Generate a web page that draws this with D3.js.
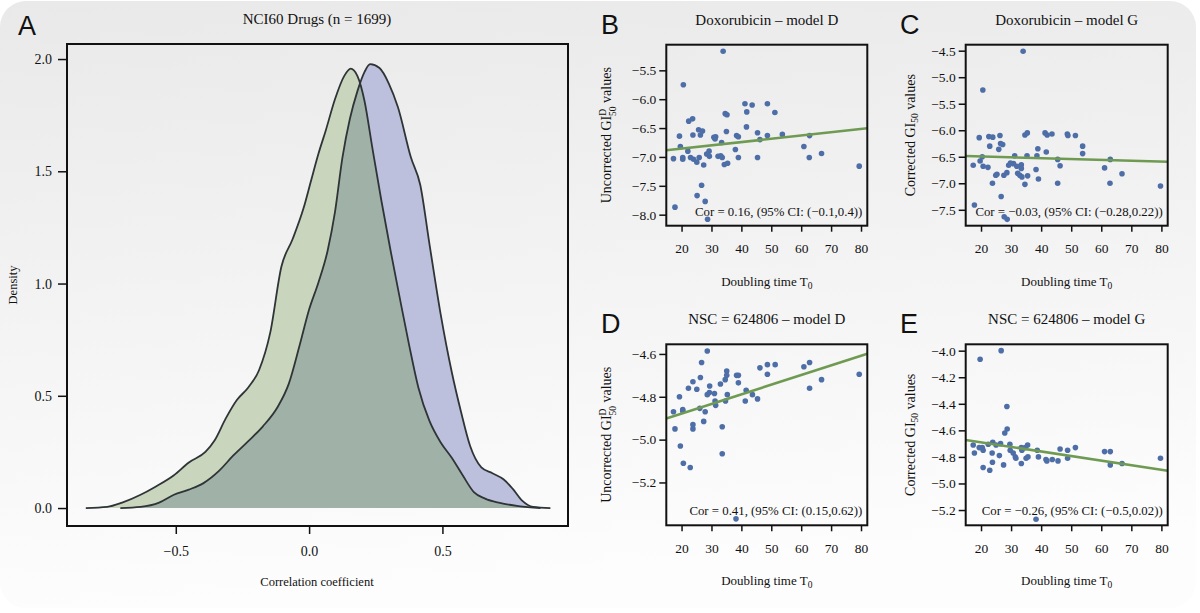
<!DOCTYPE html>
<html><head><meta charset="utf-8">
<script src="https://cdn.jsdelivr.net/npm/d3@7"></script>
<style>
html,body{margin:0;padding:0;background:#fff;}
svg{display:block;}
</style></head>
<body>
<svg id="chart" width="1200" height="613"></svg>
<script>
// ---------- Panel A: density curves ----------
const densGreenX = [-0.8375,-0.757,-0.701,-0.632,-0.576,-0.507,-0.451,-0.389,-0.354,-0.313,-0.271,-0.229,-0.1875,-0.146,-0.104,-0.0625,-0.021,0.007,0.035,0.0625,0.097,0.132,0.156,0.181,0.208,0.236,0.271,0.306,0.340,0.375,0.410,0.451,0.493,0.535,0.576,0.618,0.660,0.715,0.785,0.868];
const densGreenY = [0,0.005,0.024,0.059,0.095,0.146,0.203,0.25,0.302,0.398,0.481,0.536,0.615,0.78,1.075,1.196,1.335,1.457,1.578,1.682,1.821,1.925,1.957,1.925,1.812,1.613,1.370,1.144,0.936,0.727,0.536,0.389,0.293,0.224,0.146,0.071,0.042,0.023,0.009,0];
const densBlueX = [-0.708,-0.632,-0.5625,-0.507,-0.451,-0.396,-0.340,-0.285,-0.229,-0.174,-0.118,-0.076,-0.035,0,0.035,0.069,0.097,0.125,0.153,0.181,0.208,0.229,0.264,0.299,0.333,0.382,0.417,0.451,0.493,0.535,0.569,0.604,0.646,0.6875,0.729,0.764,0.799,0.840,0.905];
const densBlueY = [0,0.005,0.024,0.059,0.082,0.111,0.163,0.233,0.297,0.363,0.45,0.554,0.727,0.884,1.005,1.144,1.318,1.561,1.734,1.856,1.943,1.977,1.960,1.891,1.786,1.561,1.439,1.179,0.866,0.606,0.432,0.276,0.181,0.155,0.128,0.085,0.033,0.005,0];
const densXTicks = [-0.5, 0, 0.5];
const densYTicks = [0, 0.5, 1.0, 1.5, 2.0];

// ---------- Panel B: Doxorubicin - model D ----------
const bX = [33.9,20.6,41.2,43.6,48.7,51.2,41.8,34.6,35.2,22.4,23.7,19.3,23.8,25.7,27.0,26.3,35.0,41.7,45.4,48.7,46.2,53.7,38.4,39.0,30.8,31.4,31.2,33.4,19.6,22.1,29.2,38.0,17.3,20.4,20.4,23.0,24.0,25.1,25.9,27.4,28.4,29.3,32.2,33.1,33.6,34.3,35.4,39.0,45.4,60.9,62.8,62.7,66.8,79.4,26.7,25.2,27.9,17.8,28.7];
const bY = [-5.17,-5.75,-6.08,-6.10,-6.08,-6.23,-6.22,-6.25,-6.27,-6.38,-6.34,-6.64,-6.62,-6.53,-6.55,-6.62,-6.56,-6.48,-6.58,-6.63,-6.70,-6.61,-6.63,-6.65,-6.66,-6.65,-6.69,-6.75,-6.82,-6.90,-6.90,-6.87,-7.03,-7.01,-7.04,-7.01,-7.04,-7.09,-7.01,-7.14,-6.95,-6.99,-6.99,-6.98,-7.01,-7.13,-7.11,-7.01,-7.01,-6.82,-6.63,-7.01,-6.94,-7.16,-7.49,-7.67,-7.77,-7.87,-8.08];
// ---------- Panel C: Doxorubicin - model G ----------
const cX = [34.0,20.6,19.4,22.6,23.9,26.3,22.9,25.9,26.5,27.2,34.6,35.4,41.3,42.0,43.6,48.7,48.9,51.4,53.8,53.8,38.9,41.7,17.4,19.7,20.4,20.7,22.3,31.2,31.9,30.8,29.2,29.8,33.4,33.4,35.3,38.6,45.5,46.3,38.3,39.1,25.3,24.9,27.6,28.6,32.2,32.9,33.6,35.5,23.8,34.6,45.5,61.1,63.0,62.9,66.9,79.7,26.7,17.8,27.7,28.7];
const cY = [-4.51,-5.24,-6.14,-6.12,-6.13,-6.10,-6.30,-6.36,-6.25,-6.27,-6.09,-6.05,-6.05,-6.09,-6.07,-6.07,-6.10,-6.10,-6.30,-6.44,-6.35,-6.41,-6.66,-6.58,-6.50,-6.68,-6.70,-6.48,-6.68,-6.63,-6.66,-6.62,-6.65,-6.72,-6.48,-6.48,-6.55,-6.67,-6.74,-6.92,-6.83,-6.85,-6.85,-6.80,-6.81,-6.85,-6.88,-6.86,-7.00,-7.02,-7.00,-6.71,-6.55,-7.00,-6.82,-7.05,-7.25,-7.41,-7.63,-7.68];
// ---------- Panel D: NSC = 624806 - model D ----------
const dX = [28.6,26.7,26.3,23.8,22.3,25.1,19.3,29.4,29.3,28.6,31.0,31.2,31.4,33.0,34.6,35.1,35.1,35.3,34.7,38.4,39.0,39.0,41.6,41.3,43.7,45.4,46.2,48.7,48.7,51.3,60.9,62.8,62.8,66.8,79.4,17.3,20.4,20.4,26.1,27.9,27.4,17.8,23.8,23.8,33.6,19.6,20.6,22.9,33.6,38.2];
const dY = [-4.586,-4.64,-4.71,-4.73,-4.76,-4.765,-4.80,-4.75,-4.78,-4.79,-4.785,-4.82,-4.84,-4.74,-4.72,-4.68,-4.70,-4.79,-4.82,-4.70,-4.70,-4.735,-4.77,-4.82,-4.79,-4.81,-4.665,-4.65,-4.695,-4.65,-4.66,-4.64,-4.76,-4.72,-4.695,-4.87,-4.866,-4.86,-4.854,-4.87,-4.915,-4.95,-4.93,-4.95,-4.94,-5.03,-5.11,-5.13,-5.066,-5.37];
// ---------- Panel E: NSC = 624806 - model G ----------
const eX = [26.7,19.7,28.6,28.7,27.9,17.4,19.4,20.4,20.7,17.8,22.4,23.9,25.0,26.5,29.6,29.7,30.7,31.4,31.6,33.4,33.6,34.7,35.5,35.0,35.6,33.4,23.7,23.8,26.1,27.5,20.7,22.9,38.7,39.1,41.6,41.9,43.7,45.6,46.3,48.8,48.8,51.4,61.1,63.0,63.0,66.9,79.7,38.3];
const eY = [-4.00,-4.065,-4.42,-4.59,-4.62,-4.71,-4.73,-4.73,-4.75,-4.77,-4.705,-4.69,-4.71,-4.70,-4.705,-4.75,-4.77,-4.80,-4.81,-4.73,-4.75,-4.73,-4.71,-4.81,-4.80,-4.85,-4.77,-4.84,-4.79,-4.86,-4.88,-4.90,-4.75,-4.80,-4.82,-4.83,-4.82,-4.83,-4.74,-4.75,-4.81,-4.73,-4.76,-4.76,-4.86,-4.85,-4.81,-5.27];

// regression lines [intercept, slope]
const fitB = [-6.970, 0.00569];
const fitC = [-6.463, -0.00159];
const fitD = [-4.968, 0.00449];
const fitE = [-4.622, -0.00343];

const xTicksT0 = [20, 30, 40, 50, 60, 70, 80];
const yTicksB = [-8.0, -7.5, -7.0, -6.5, -6.0, -5.5];
const yTicksC = [-7.5, -7.0, -6.5, -6.0, -5.5, -5.0, -4.5];
const yTicksD = [-5.2, -5.0, -4.8, -4.6];
const yTicksE = [-5.2, -5.0, -4.8, -4.6, -4.4, -4.2, -4.0];

const corTexts = ["Cor = 0.16, (95% CI: (\u22120.1,0.4))",
                  "Cor = \u22120.03, (95% CI: (\u22120.28,0.22))",
                  "Cor = 0.41, (95% CI: (0.15,0.62))",
                  "Cor = \u22120.26, (95% CI: (\u22120.5,0.02))"];
const titles = ["Doxorubicin \u2013 model D", "Doxorubicin \u2013 model G",
                "NSC = 624806 \u2013 model D", "NSC = 624806 \u2013 model G"];
const panelLetters = ["A", "B", "C", "D", "E"];

// ---------- drawing ----------
const svg = d3.select("#chart");
const SERIF = "'Liberation Serif','DejaVu Serif',serif";
const SANS = "'Liberation Sans',Arial,sans-serif";

const defs = svg.append("defs");
const grad = defs.append("linearGradient").attr("id","bg").attr("x1",0).attr("y1",0).attr("x2",0.15).attr("y2",1);
grad.append("stop").attr("offset","0%").attr("stop-color","#e9e9e9");
grad.append("stop").attr("offset","100%").attr("stop-color","#fdfdfd");
svg.append("rect").attr("x",0).attr("y",1).attr("width",1196).attr("height",607).attr("rx",26).attr("fill","url(#bg)");

// ---- Panel A ----
const A = {x0:67, x1:568, y0:44, y1:526};
const ax = d3.scaleLinear().domain([-0.908, 0.971]).range([A.x0, A.x1]);
const ay = d3.scaleLinear().domain([-0.08, 2.067]).range([A.y1, A.y0]);
const gA = svg.append("g");

const blueData = densBlueX.map((x,i)=>[x, densBlueY[i]]);
const greenData = densGreenX.map((x,i)=>[x, densGreenY[i]]);
const area = d3.area().x(d=>ax(d[0])).y0(ay(0)).y1(d=>ay(d[1])).curve(d3.curveMonotoneX);
const line = d3.line().x(d=>ax(d[0])).y(d=>ay(d[1])).curve(d3.curveMonotoneX);

defs.append("clipPath").attr("id","blueClip").append("path").attr("d", area(blueData));
gA.append("path").attr("d", area(blueData)).attr("fill","#bcc0dc");
gA.append("path").attr("d", area(greenData)).attr("fill","#c9d5bd");
gA.append("path").attr("d", area(greenData)).attr("fill","#a0b2a7").attr("clip-path","url(#blueClip)");
gA.append("path").attr("d", line(blueData)).attr("fill","none").attr("stroke","#2f3437").attr("stroke-width",1.8);
gA.append("path").attr("d", line(greenData)).attr("fill","none").attr("stroke","#2f3437").attr("stroke-width",1.8);

gA.append("rect").attr("x",A.x0).attr("y",A.y0).attr("width",A.x1-A.x0).attr("height",A.y1-A.y0)
  .attr("fill","none").attr("stroke","#111").attr("stroke-width",2);

function styleAxis(g, fs){
  g.select(".domain").remove();
  g.selectAll(".tick line").attr("stroke","#111").attr("stroke-width",1.5);
  g.selectAll(".tick text").attr("font-family",SERIF).attr("font-size",fs).attr("fill","#111");
}
const fmt1 = d3.format(".1f");
const axA = svg.append("g").attr("transform",`translate(0,${A.y1})`)
  .call(d3.axisBottom(ax).tickValues(densXTicks).tickSize(8).tickPadding(12).tickFormat(fmt1));
styleAxis(axA, 14);
const ayA = svg.append("g").attr("transform",`translate(${A.x0},0)`)
  .call(d3.axisLeft(ay).tickValues(densYTicks).tickSize(9).tickPadding(6).tickFormat(fmt1));
styleAxis(ayA, 14);

svg.append("text").attr("x",317).attr("y",24).attr("text-anchor","middle")
  .attr("font-family",SERIF).attr("font-size",15).attr("fill","#111").text("NCI60 Drugs (n = 1699)");
svg.append("text").attr("x",317).attr("y",586).attr("text-anchor","middle")
  .attr("font-family",SERIF).attr("font-size",12.5).attr("fill","#111").text("Correlation coefficient");
svg.append("text").attr("transform","translate(17,285) rotate(-90)").attr("text-anchor","middle")
  .attr("font-family",SERIF).attr("font-size",12.5).attr("fill","#111").text("Density");
svg.append("text").attr("x",18).attr("y",35).attr("font-family",SANS).attr("font-size",27).attr("fill","#111").text(panelLetters[0]);

// ---- Scatter panels ----
const panels = [
  {box:{x0:666.3,x1:867.3,y0:44.7,y1:225.7}, yd:[-8.191,-5.056], xs:bX, ys:bY, fit:fitB, yt:yTicksB, label:"D", ttl:0, letter:1, lx:601},
  {box:{x0:965.7,x1:1167.7,y0:44.7,y1:225.7}, yd:[-7.80,-4.387], xs:cX, ys:cY, fit:fitC, yt:yTicksC, label:"G", ttl:1, letter:2, lx:900},
  {box:{x0:666.3,x1:867.3,y0:344.3,y1:525.3}, yd:[-5.40,-4.555], xs:dX, ys:dY, fit:fitD, yt:yTicksD, label:"D", ttl:2, letter:3, lx:601},
  {box:{x0:965.7,x1:1167.7,y0:344.3,y1:525.3}, yd:[-5.315,-3.952], xs:eX, ys:eY, fit:fitE, yt:yTicksE, label:"G", ttl:3, letter:4, lx:900}
];

panels.forEach((p,pi)=>{
  const b = p.box;
  const x = d3.scaleLinear().domain([14.9, 82.1]).range([b.x0, b.x1]);
  const y = d3.scaleLinear().domain(p.yd).range([b.y1, b.y0]);
  const g = svg.append("g");
  const cid = "clip"+pi;
  defs.append("clipPath").attr("id",cid).append("rect").attr("x",b.x0).attr("y",b.y0).attr("width",b.x1-b.x0).attr("height",b.y1-b.y0);
  // points
  g.append("g").selectAll("circle").data(p.xs.map((v,i)=>[v,p.ys[i]])).join("circle")
    .attr("cx",d=>x(d[0])).attr("cy",d=>y(d[1])).attr("r",2.8).attr("fill","#4e6ea8");
  // fit line
  const xd = x.domain();
  g.append("line").attr("clip-path",`url(#${cid})`)
    .attr("x1",x(xd[0])).attr("y1",y(p.fit[0]+p.fit[1]*xd[0]))
    .attr("x2",x(xd[1])).attr("y2",y(p.fit[0]+p.fit[1]*xd[1]))
    .attr("stroke","#6f9a52").attr("stroke-width",2.6);
  // cor text
  g.append("text").attr("x",b.x1-5).attr("y",b.y1-10).attr("text-anchor","end")
    .attr("font-family",SERIF).attr("font-size",12.8).attr("fill","#111").text(corTexts[pi]);
  // box
  g.append("rect").attr("x",b.x0).attr("y",b.y0).attr("width",b.x1-b.x0).attr("height",b.y1-b.y0)
    .attr("fill","none").attr("stroke","#111").attr("stroke-width",2);
  // axes
  const gx = svg.append("g").attr("transform",`translate(0,${b.y1})`)
    .call(d3.axisBottom(x).tickValues(xTicksT0).tickSize(6).tickPadding(12).tickFormat(d3.format("d")));
  styleAxis(gx, 13.5);
  const gy = svg.append("g").attr("transform",`translate(${b.x0},0)`)
    .call(d3.axisLeft(y).tickValues(p.yt).tickSize(7).tickPadding(3).tickFormat(fmt1));
  styleAxis(gy, 13.5);
  const cx = (b.x0+b.x1)/2, cy=(b.y0+b.y1)/2;
  // title
  svg.append("text").attr("x",cx).attr("y",b.y0-20).attr("text-anchor","middle")
    .attr("font-family",SERIF).attr("font-size",15).attr("fill","#111").text(titles[p.ttl]);
  // letter
  svg.append("text").attr("x",p.lx).attr("y",b.y0-11).attr("font-family",SANS).attr("font-size",27).attr("fill","#111").text(panelLetters[p.letter]);
  // x label with subscript
  const xl = svg.append("text").attr("x",cx).attr("y",b.y1+60).attr("text-anchor","middle")
    .attr("font-family",SERIF).attr("font-size",13).attr("fill","#111");
  xl.append("tspan").text("Doubling time T");
  xl.append("tspan").attr("font-size",9.5).attr("dy",3).text("0");
  // y label
  const ylx = b.x0 - (p.label==="D" ? 55 : 51);
  const yl = svg.append("text").attr("transform",`translate(${ylx},${cy}) rotate(-90)`).attr("text-anchor","middle")
    .attr("font-family",SERIF).attr("font-size",14).attr("fill","#111");
  if (p.label==="D"){
    yl.append("tspan").text("Uncorrected GI");
    yl.append("tspan").attr("font-size",9.5).attr("dy",-5).text("D");
    yl.append("tspan").attr("font-size",9.5).attr("dx",-7).attr("dy",9.5).text("50");
    yl.append("tspan").attr("dy",-4.5).text(" values");
  } else {
    yl.append("tspan").text("Corrected GI");
    yl.append("tspan").attr("font-size",9.5).attr("dy",3).text("50");
    yl.append("tspan").attr("dy",-3).text(" values");
  }
});
</script>
</body></html>
